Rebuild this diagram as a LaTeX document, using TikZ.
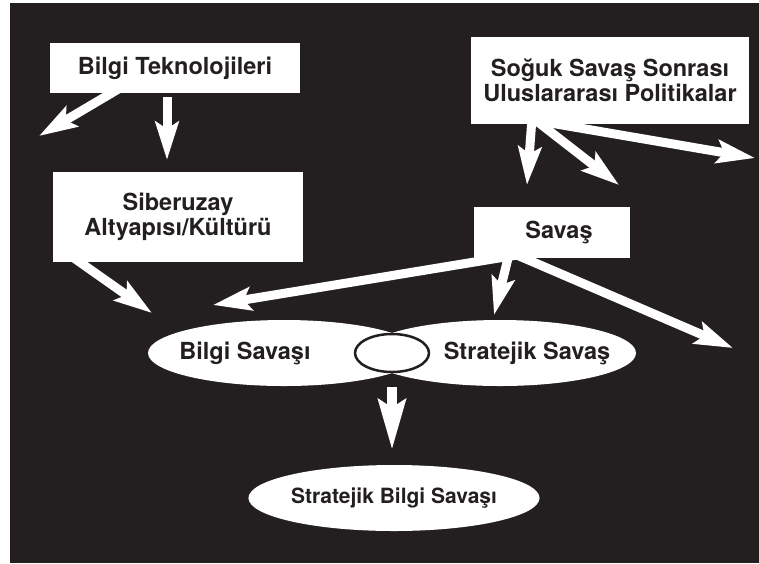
\documentclass[tikz,border=0pt]{standalone}
\usepackage{fontspec}
\setmainfont{TeX Gyre Heros}
\usetikzlibrary{arrows.meta,shapes.geometric,calc}
\definecolor{bgc}{RGB}{35,31,32}
\pgfdeclarelayer{bglayer}
\pgfdeclarelayer{arrowlayer}
\pgfsetlayers{bglayer,arrowlayer,main}
\begin{document}
\begin{tikzpicture}[x=1pt,y=-1pt,
  txt/.style={text=bgc,font=\fontsize{23.5}{25}\selectfont\bfseries},
  box/.style={rectangle,fill=white,inner sep=0pt,align=center,txt},
  oval/.style={ellipse,fill=white,inner sep=0pt,txt},
  arr/.style={white,line width=9pt,-{Stealth[length=38pt,width=23pt,inset=7pt]}},
  bigarr/.style={white,line width=10pt,-{Stealth[length=50pt,width=27pt,inset=8pt]}},
]
\useasboundingbox (0,0) rectangle (759,563);
\begin{pgfonlayer}{bglayer}
  \fill[bgc] (10,3) rectangle (759,563);
\end{pgfonlayer}

% boxes
\node[box,minimum width=250pt,minimum height=50pt] (bt) at (175,68) {Bilgi Teknolojileri};
\node[box,minimum width=250pt,minimum height=90pt] (sib) at (178,217) {Siberuzay\\Altyapısı/Kültürü};
\node[box,minimum width=278pt,minimum height=87pt] (sog) at (610,80.5) {Soğuk Savaş Sonrası\\Uluslararası Politikalar};
\node[box,minimum width=156pt,minimum height=51pt] (sav) at (552,232.5) {\hspace*{14pt}Savaş};

% ellipses
\node[oval,minimum width=272pt,minimum height=66pt,
      label={[txt,xshift=-39pt]center:Bilgi Savaşı}] (bs) at (284,353) {};
\node[oval,minimum width=272pt,minimum height=66pt,
      label={[txt,xshift=27pt]center:Stratejik Savaş}] (ss) at (500,353) {};
\node[ellipse,fill=white,draw=bgc,line width=2.5pt,minimum width=74pt,minimum height=38pt,inner sep=0pt] (lens) at (392,353) {};
\node[oval,minimum width=270pt,minimum height=66pt,font=\fontsize{21}{24}\selectfont\bfseries] (sbs) at (394,498) {Stratejik Bilgi Savaşı};

% free arrow ends
\coordinate (t1) at (39,136);
\coordinate (t2) at (167,160);
\coordinate (t3) at (152,313);
\coordinate (t4) at (213,305);
\coordinate (t5) at (494,315);
\coordinate (t6) at (733,348);
\coordinate (t7) at (527,185);
\coordinate (t8) at (619,185);
\coordinate (t9) at (755,158);

\begin{pgfonlayer}{arrowlayer}
  \draw[arr] ($(bt.south west)+(70,-5)$) -- (t1);
  \draw[arr] ($(bt.south)+(-8,4)$) -- (t2);
  \draw[arr] ($(sib.south west)+(20,-5)$) -- (t3);
  \draw[arr] ($(sav.south)+(-30,-4)$) -- (t4);
  \draw[arr] ($(sav.south)+(-42,-8)$) -- (t5);
  \draw[arr] ($(sav.south)+(-37,-4)$) -- (t6);
  \draw[arr] ($(sog.south)+(-78,-6)$) -- (t7);
  \draw[arr] ($(sog.south)+(-77,-6)$) -- (t8);
  \draw[arr] ($(sog.south)+(-70,-3)$) -- (t9);
  \draw[bigarr,shorten >=15pt] ($(lens.south)+(0,14)$) -- ($(sbs.north)+(-2,0)$);
\end{pgfonlayer}
\end{tikzpicture}
\end{document}
